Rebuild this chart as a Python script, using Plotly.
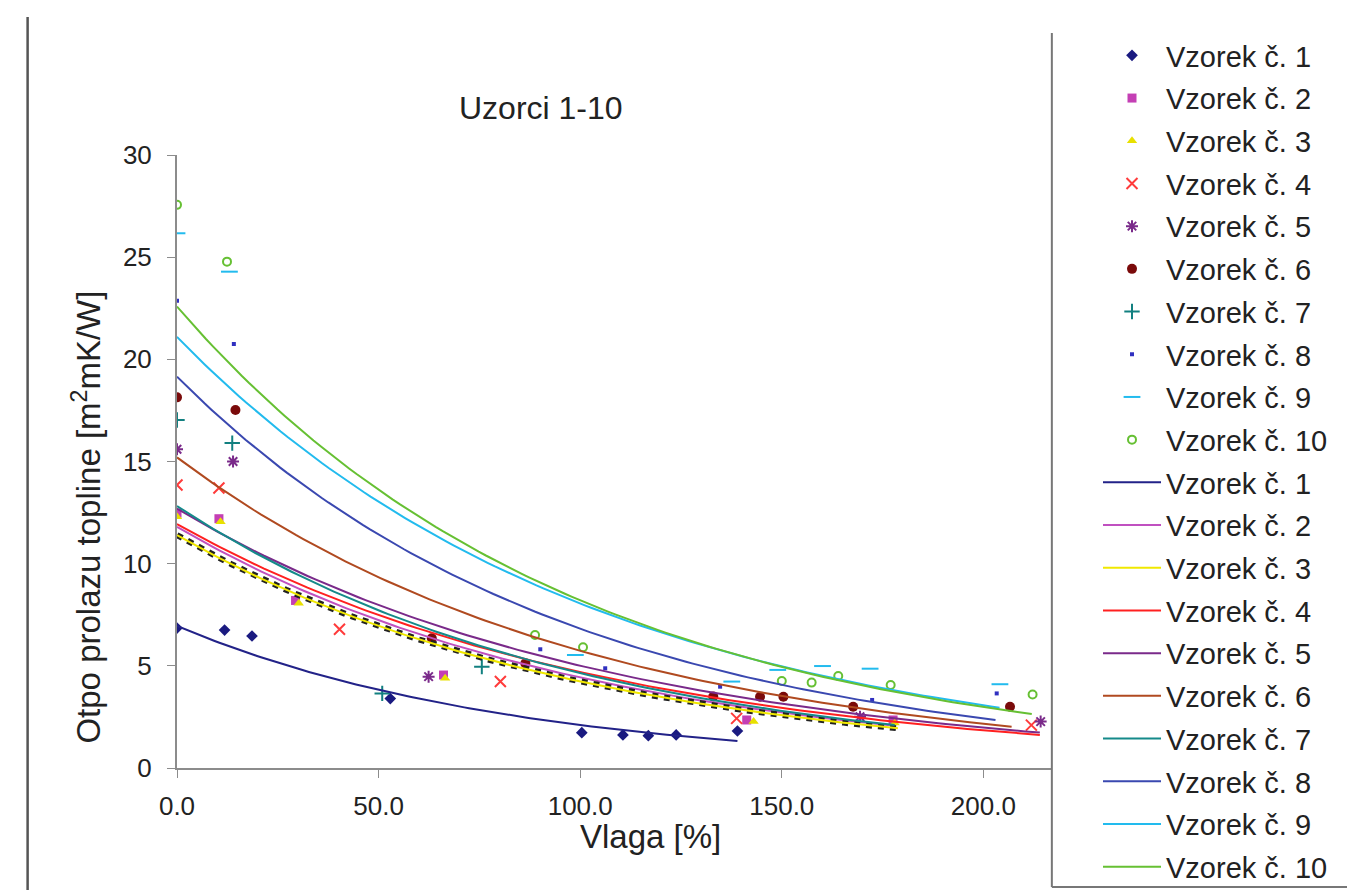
import numpy as np
import plotly.graph_objects as go

# ---- measured samples: moisture [%] vs. thermal resistance ----
names = [f"Vzorek č. {i}" for i in range(1, 11)]

x1 = [0, 11.8, 18.6, 52.9, 100.4, 110.6, 116.9, 123.8, 139.0]
y1 = [6.85, 6.75, 6.46, 3.4, 1.73, 1.62, 1.58, 1.62, 1.81]
x2 = [0, 10.4, 29.4, 66.1, 141.3, 177.6]
y2 = [12.47, 12.2, 8.2, 4.55, 2.35, 2.35]
x3 = [0, 10.8, 30.2, 66.5, 143.0, 178.0]
y3 = [12.3, 12.05, 8.06, 4.39, 2.27, 2.2]
x4 = [0, 10.4, 40.3, 80.2, 138.8, 211.9]
y4 = [13.85, 13.7, 6.79, 4.23, 2.43, 2.1]
x5 = [0, 13.9, 62.4, 169.4, 214.2]
y5 = [15.6, 15.0, 4.47, 2.51, 2.27]
x6 = [0, 14.5, 63.2, 86.4, 133.0, 144.6, 150.4, 167.7, 206.6]
y6 = [18.14, 17.52, 6.35, 5.12, 3.5, 3.49, 3.49, 3.0, 3.0]
x7 = [0, 13.7, 50.9, 75.6]
y7 = [17.03, 15.9, 3.65, 4.96]
x8 = [0, 14.1, 90.1, 106.2, 134.7, 172.4, 203.3]
y8 = [22.87, 20.75, 5.81, 4.88, 3.98, 3.33, 3.65]
x9 = [0, 13.0, 98.8, 137.6, 149.0, 160.1, 171.9, 204.1]
y9 = [26.17, 24.29, 5.53, 4.23, 4.8, 4.99, 4.86, 4.1]
x10 = [0, 12.4, 88.8, 100.7, 150.0, 157.4, 164.0, 177.0, 212.2]
y10 = [27.56, 24.78, 6.51, 5.91, 4.26, 4.18, 4.5, 4.06, 3.6]

xs = [x1, x2, x3, x4, x5, x6, x7, x8, x9, x10]
ys = [y1, y2, y3, y4, y5, y6, y7, y8, y9, y10]

# exponential trendlines y = a * exp(b * x), drawn up to x_end
trend_a = [6.95, 11.8, 11.4, 11.94, 12.7, 15.2, 12.82, 19.15, 21.1, 22.58]
trend_b = [-0.01195, -0.0098, -0.0099, -0.00934, -0.00931, -0.00975, -0.01016, -0.01033, -0.00964, -0.01012]
trend_end = [139, 178, 178.8, 214, 214, 207, 178, 203, 204, 212]

marker_colors = ["#1a1a80", "#c43fb4", "#e8e000", "#ff3b3b", "#7a2a8a",
                 "#7a0a0a", "#128080", "#3030c0", "#22bbee", "#66c033"]
marker_symbols = ["diamond", "square", "triangle-up", "x-thin-open", "asterisk-open",
                  "circle", "cross-thin-open", "square", "line-ew-open", "circle-open"]
marker_sizes = [9, 9, 9, 11, 10, 10, 11, 4, 12, 8]
line_colors = ["#222288", "#c050c0", "#f0e800", "#ff2020", "#7a2a8a",
               "#b04a20", "#158a8a", "#3a48b0", "#22bbee", "#66c033"]

fig = go.Figure()

for i in range(10):
    lw = 2 if marker_symbols[i].endswith("open") else 0
    fig.add_trace(go.Scatter(
        x=xs[i], y=ys[i], mode="markers", name=names[i],
        legendgroup=f"m{i}",
        marker=dict(symbol=marker_symbols[i], size=marker_sizes[i],
                    color=marker_colors[i],
                    line=dict(width=lw, color=marker_colors[i])),
    ))

for i in range(10):
    xt = np.linspace(0, trend_end[i], 120)
    yt = trend_a[i] * np.exp(trend_b[i] * xt)
    if i == 2:
        fig.add_trace(go.Scatter(x=xt, y=yt, mode="lines", showlegend=False,
                                 hoverinfo="skip",
                                 line=dict(color="#222222", width=6, dash="dot")))
    fig.add_trace(go.Scatter(
        x=xt, y=yt, mode="lines", name=names[i], legendgroup=f"t{i}",
        line=dict(color=line_colors[i], width=2),
    ))

W, H = 1347, 890
L, R, T, B = 176.5, 1185.25, 155, 768
pw, ph = R - L, B - T


def px(x):
    return (x - L) / pw


def py(y):
    return (B - y) / ph


font = "Liberation Sans, Arial, sans-serif"

shapes = [
    # outer frame edge on the left
    dict(type="line", xref="paper", yref="paper", x0=px(27), x1=px(27),
         y0=py(17), y1=py(892), line=dict(color="#555555", width=2.5), layer="above"),
    # legend panel
    dict(type="rect", xref="paper", yref="paper", x0=px(1052), x1=px(1360),
         y0=py(887), y1=py(33), fillcolor="white", line=dict(width=0), layer="above"),
    dict(type="line", xref="paper", yref="paper", x0=px(1052), x1=px(1052),
         y0=py(887), y1=py(33), line=dict(color="#777777", width=2), layer="above"),
    dict(type="line", xref="paper", yref="paper", x0=px(1052), x1=px(1360),
         y0=py(887), y1=py(887), line=dict(color="#777777", width=2), layer="above"),
]

annotations = [
    dict(text="Uzorci 1-10", x=px(541), y=py(88), xref="paper", yref="paper",
         showarrow=False, font=dict(family=font, size=32, color="#222")),
    dict(text="Vlaga [%]", x=px(650), y=py(857), xref="paper", yref="paper",
         showarrow=False, font=dict(family=font, size=33, color="#222")),
    dict(text="Otpo prolazu topline [m<sup>2</sup>mK/W]", x=px(63), y=py(517),
         xref="paper", yref="paper", textangle=-90, showarrow=False,
         font=dict(family=font, size=33, color="#222")),
]

fig.update_layout(
    width=W, height=H,
    margin=dict(l=L, r=W - R, t=T, b=H - B, autoexpand=False),
    paper_bgcolor="white", plot_bgcolor="white",
    font=dict(family=font, size=26, color="#222"),
    showlegend=True,
    legend=dict(
        xref="container", yref="container",
        x=1098 / W, y=1 - 30 / H, xanchor="left", yanchor="top",
        bgcolor="rgba(0,0,0,0)", borderwidth=0, maxheight=880,
        font=dict(family=font, size=29, color="#222"),
        itemwidth=58, tracegroupgap=2, traceorder="grouped",
    ),
    shapes=shapes,
    annotations=annotations,
)

fig.update_xaxes(range=[0, 250], tickvals=[0, 50, 100, 150, 200],
                 ticktext=["0.0", "50.0", "100.0", "150.0", "200.0"],
                 showgrid=False, zeroline=False, showline=True,
                 linecolor="#8c8c8c", linewidth=2, ticks="outside",
                 ticklen=8, tickcolor="#8c8c8c", ticklabelstandoff=6,
                 tickfont=dict(size=26))
fig.update_yaxes(range=[0, 30], tickvals=[0, 5, 10, 15, 20, 25, 30],
                 showgrid=False, zeroline=False, showline=True,
                 linecolor="#8c8c8c", linewidth=2, ticks="outside",
                 ticklen=8, tickcolor="#8c8c8c", ticklabelstandoff=10,
                 tickfont=dict(size=26))

fig.write_html("out.html")
